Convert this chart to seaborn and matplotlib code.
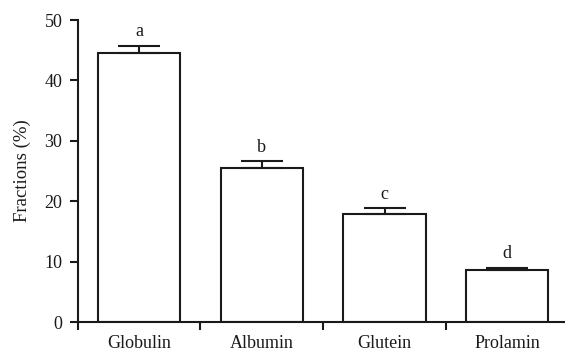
import numpy as np
import pandas as pd
import seaborn as sns
import matplotlib.pyplot as plt
from matplotlib.ticker import FixedLocator

# Data
fractions = ["Globulin", "Albumin", "Glutein", "Prolamin"]
means = [44.6, 25.5, 17.8, 8.6]
errors = [1.1, 1.1, 1.0, 0.4]
letters = ["a", "b", "c", "d"]

df = pd.DataFrame({"fraction": fractions, "value": means})

sns.set_theme(style="ticks")
plt.rcParams["font.family"] = ["Liberation Serif", "DejaVu Serif"]

fig = plt.figure(figsize=(5.65, 3.51), dpi=100)
ax = fig.add_axes([0.1375, 0.0826, 0.8625, 0.8604])

sns.barplot(data=df, x="fraction", y="value", color="white", edgecolor="#1a1a1a",
            linewidth=1.5, width=0.67, saturation=1, ax=ax, errorbar=None)

# upper-only error bars
x = np.arange(len(fractions))
ax.errorbar(x, means, yerr=[np.zeros(len(errors)), errors], fmt="none",
            ecolor="#1a1a1a", elinewidth=1.5, capsize=15, capthick=1.5)

for xi, m, e, lab in zip(x, means, errors, letters):
    ax.annotate(lab, (xi, m + e), xytext=(0, 4), textcoords="offset points",
                ha="center", va="bottom", fontsize=13, color="#1a1a1a")

ax.set_xlim(-0.5, 3.47)
ax.set_ylim(0, 50)
ax.set_yticks([0, 10, 20, 30, 40, 50])
ax.set_xlabel("")
ax.set_ylabel("Fractions (%)", fontsize=13.5, color="#1a1a1a", labelpad=10)

# ticks between categories
ax.xaxis.set_minor_locator(FixedLocator([0.5, 1.5, 2.5]))
ax.tick_params(axis="x", which="major", length=0, pad=9, labelsize=13, colors="#1a1a1a")
ax.tick_params(axis="x", which="minor", length=6, width=1.5, color="#1a1a1a")
ax.tick_params(axis="y", length=6, width=1.5, labelsize=13, colors="#1a1a1a", pad=5)

for side in ["top", "right"]:
    ax.spines[side].set_visible(False)
ax.spines["left"].set_bounds(0, 50)
for side in ["left", "bottom"]:
    ax.spines[side].set_linewidth(1.5)
    ax.spines[side].set_color("#1a1a1a")
# y spine extends slightly below the x axis as a tick at the left boundary
ax.plot([-0.5, -0.5], [0, -1.3], color="#1a1a1a", lw=1.5, clip_on=False,
        solid_capstyle="butt")

fig.savefig("out.png", dpi=100)
